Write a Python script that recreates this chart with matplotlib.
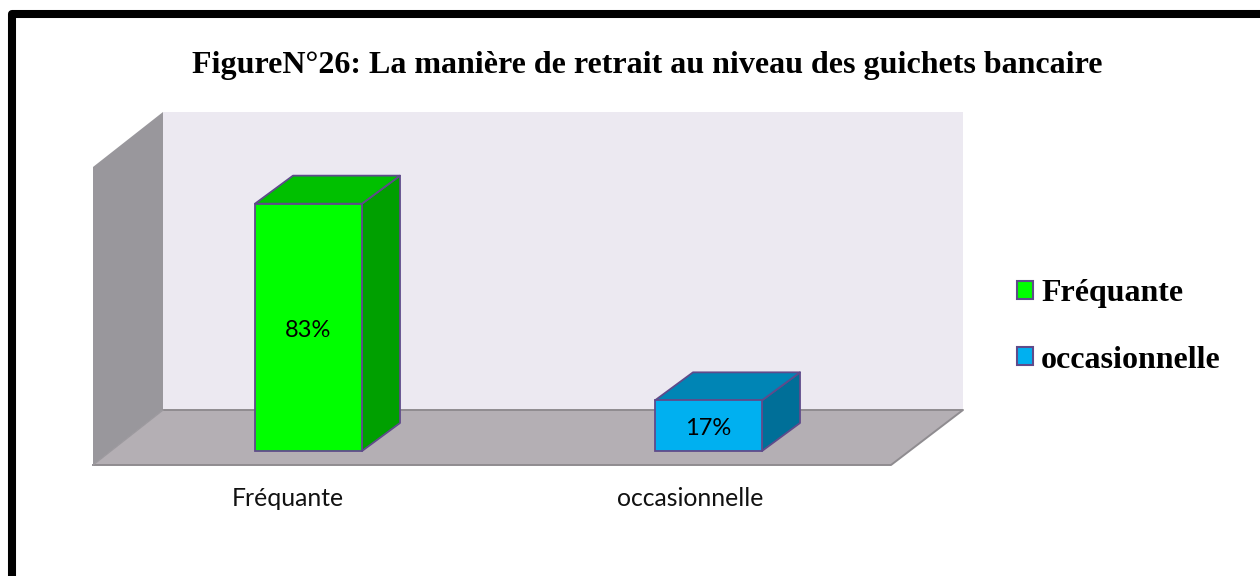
import matplotlib
matplotlib.use("Agg")
import matplotlib.pyplot as plt
from matplotlib.patches import Polygon, Patch, Rectangle

categories = ["Fréquante", "occasionnelle"]
values = [83, 17]
labels = ["83%", "17%"]
front_colors = ["#00FF00", "#00B0F0"]
top_colors = ["#00C000", "#0085B5"]
side_colors = ["#00A000", "#006F98"]

W, H = 1260, 576
PX_PER_CAT = 400
PX_PER_PCT = 2.98
X0, Y0 = 308.5, 451   # pixel position of first category, value 0
BAR_W = 107 / PX_PER_CAT
DX = 38 / PX_PER_CAT
DY = 28 / PX_PER_PCT
EDGE = "#5F4B8B"
TICK_X = [288, 690]


def px(x, y):
    return (x - X0) / PX_PER_CAT, (Y0 - y) / PX_PER_PCT


fig = plt.figure(figsize=(W / 100, H / 100), dpi=100)
ax = fig.add_axes([0, 0, 1, 1])
ax.set_xlim(px(0, 0)[0], px(W, 0)[0])
ax.set_ylim(px(0, H)[1], px(0, 0)[1])
ax.axis("off")

# frame, runs off the right and bottom of the picture
ax.add_patch(Polygon([px(12, 14), px(W + 20, 14), px(W + 20, H + 20), px(12, H + 20)],
                     closed=True, fc="white", ec="black", lw=5.8, joinstyle="round"))

# back wall, left wall, floor
ax.add_patch(Polygon([px(163, 112), px(963, 112), px(963, 410), px(163, 410)], fc="#ECE9F1", ec="none"))
ax.add_patch(Polygon([px(93, 167), px(163, 112), px(163, 410), px(93, 465)], fc="#99979C", ec="none"))
ax.add_patch(Polygon([px(163, 410), px(963, 410), px(891, 465), px(93, 465)], fc="#B4AFB4", ec="none"))
ax.plot(*zip(px(163, 410), px(963, 410), px(891, 465), px(93, 465)), color="#8F8C90", lw=1.4)
ax.plot(*zip(px(93, 465), px(163, 410)), color="#9C999E", lw=1)

# bars as three faces
for i, v in enumerate(values):
    x1 = i - BAR_W / 2
    x2 = i + BAR_W / 2
    ax.add_patch(Polygon([(x2, 0), (x2 + DX, DY), (x2 + DX, v + DY), (x2, v)],
                         fc=side_colors[i], ec=EDGE, lw=1.3, joinstyle="round", zorder=3))
    ax.add_patch(Polygon([(x1, v), (x2, v), (x2 + DX, v + DY), (x1 + DX, v + DY)],
                         fc=top_colors[i], ec=EDGE, lw=1.3, joinstyle="round", zorder=3))
    ax.add_patch(Rectangle((x1, 0), BAR_W, v, fc=front_colors[i], ec=EDGE, lw=1.3, zorder=4))
    ax.text(i, v / 2 - 3 / PX_PER_PCT, labels[i], ha="center", va="center", fontsize=17,
            family="Lato", color="black", zorder=5)
    ax.text(px(TICK_X[i], 0)[0], px(0, 499)[1], categories[i], ha="center", va="center",
            fontsize=17.8, family="Lato", color="#111111")

fig.text(647 / W, 1 - 66 / H, "FigureN°26: La manière de retrait au niveau des guichets bancaire",
         ha="center", va="center", fontsize=23, fontweight="bold", family="Liberation Serif")

handles = [Patch(fc=c, ec=EDGE, lw=1.5) for c in front_colors]
ax.legend(handles, categories, loc="center left", bbox_to_anchor=(1017 / W, 1 - 327 / H),
          frameon=False, prop={"family": "Liberation Serif", "weight": "bold", "size": 23},
          handlelength=0.5, handleheight=0.5, handletextpad=0.25, labelspacing=1.16,
          borderpad=0, borderaxespad=0)

plt.savefig("out.png", dpi=100)
